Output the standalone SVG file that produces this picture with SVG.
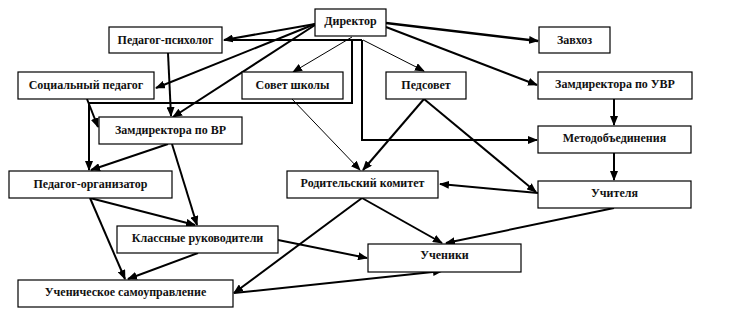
<svg xmlns="http://www.w3.org/2000/svg" width="738" height="316" viewBox="0 0 738 316">
<style>
.box rect{fill:#fff;stroke:#000;stroke-width:1.2}
.box text{font-family:"Liberation Serif","Times New Roman",serif;font-weight:bold;font-size:12px;fill:#111;text-anchor:middle}
.c path{fill:none;stroke:#000;stroke-width:2}
.c path.thin{stroke-width:1}
.c path.a{marker-end:url(#ah)}
</style>
<defs>
<marker id="ah" markerUnits="userSpaceOnUse" markerWidth="10" markerHeight="8" refX="9" refY="4" orient="auto">
<path d="M0,0 L10,4 L0,8 Z" fill="#000"/>
</marker>
</defs>
<rect width="738" height="316" fill="#fff"/>
<g class="c">
<path d="M362,40 L224,40"/>
<path d="M352,40 L352,103 L89,103 L89,170" class="a"/>
<path d="M362,40 L362,140 L537,140" class="a"/>
<path d="M315,24 L224,40" class="a"/>
<path d="M315,24 L156,88" class="a"/>
<path d="M315,25 L173,117" class="a"/>
<path d="M386,23 L538,41" class="a" style="stroke-width:2.6"/>
<path d="M386,27 L537,85" class="a"/>
<path d="M352,37 L293,72" class="thin a"/>
<path d="M363,40 L424,71" class="thin a"/>
<path d="M168,53 L171,116" class="a"/>
<path d="M87,99 L98,127" class="a"/>
<path d="M168,144 L91,170" class="a"/>
<path d="M172,144 L197,225" class="a"/>
<path d="M90,198 L195,225" class="a"/>
<path d="M90,198 L125,279" class="a"/>
<path d="M198,253 L128,279" class="a"/>
<path d="M278,240 L367,258" class="a"/>
<path d="M234,293 L442,271" class="a"/>
<path d="M362,198 L234,293" class="a"/>
<path d="M362,198 L442,243" class="a"/>
<path d="M614,208 L446,243" class="a"/>
<path d="M538,193 L440,184" class="a"/>
<path d="M424,99 L363,170" class="a"/>
<path d="M424,99 L536,192" class="a"/>
<path d="M292,99 L360,170" class="thin a"/>
<path d="M614,99 L614,125" class="a"/>
<path d="M614,153 L614,180" class="a"/>
</g>
<g id="director" class="box"><rect x="315" y="9" width="71" height="27"/><text x="350.5" y="25">Директор</text></g>
<g id="psych" class="box"><rect x="109" y="27" width="113" height="26"/><text x="165.5" y="44">Педагог-психолог</text></g>
<g id="zavhoz" class="box"><rect x="539" y="27" width="71" height="26"/><text x="574.5" y="44">Завхоз</text></g>
<g id="socped" class="box"><rect x="18" y="72" width="136" height="27"/><text x="86" y="89">Социальный педагог</text></g>
<g id="sovet" class="box"><rect x="242" y="72" width="101" height="27"/><text x="292.5" y="89">Совет школы</text></g>
<g id="pedsovet" class="box"><rect x="386" y="72" width="80" height="27"/><text x="426" y="89">Педсовет</text></g>
<g id="zuvr" class="box"><rect x="538" y="72" width="154" height="27"/><text x="615" y="88">Замдиректора по УВР</text></g>
<g id="zvr" class="box"><rect x="99" y="117" width="143" height="27"/><text x="170.5" y="134">Замдиректора по ВР</text></g>
<g id="metod" class="box"><rect x="538" y="126" width="153" height="27"/><text x="614.5" y="142">Методобъединения</text></g>
<g id="pedorg" class="box"><rect x="9" y="171" width="163" height="27"/><text x="90.5" y="188">Педагог-организатор</text></g>
<g id="rodkom" class="box"><rect x="287" y="171" width="151" height="27"/><text x="362.5" y="187">Родительский комитет</text></g>
<g id="uchitelya" class="box"><rect x="538" y="181" width="153" height="27"/><text x="614.5" y="197">Учителя</text></g>
<g id="klruk" class="box"><rect x="117" y="226" width="161" height="27"/><text x="197.5" y="242">Классные руководители</text></g>
<g id="ucheniki" class="box"><rect x="368" y="244" width="153" height="28"/><text x="444.5" y="259">Ученики</text></g>
<g id="samoupr" class="box"><rect x="18" y="280" width="215" height="27"/><text x="125.5" y="296">Ученическое самоуправление</text></g>
</svg>
